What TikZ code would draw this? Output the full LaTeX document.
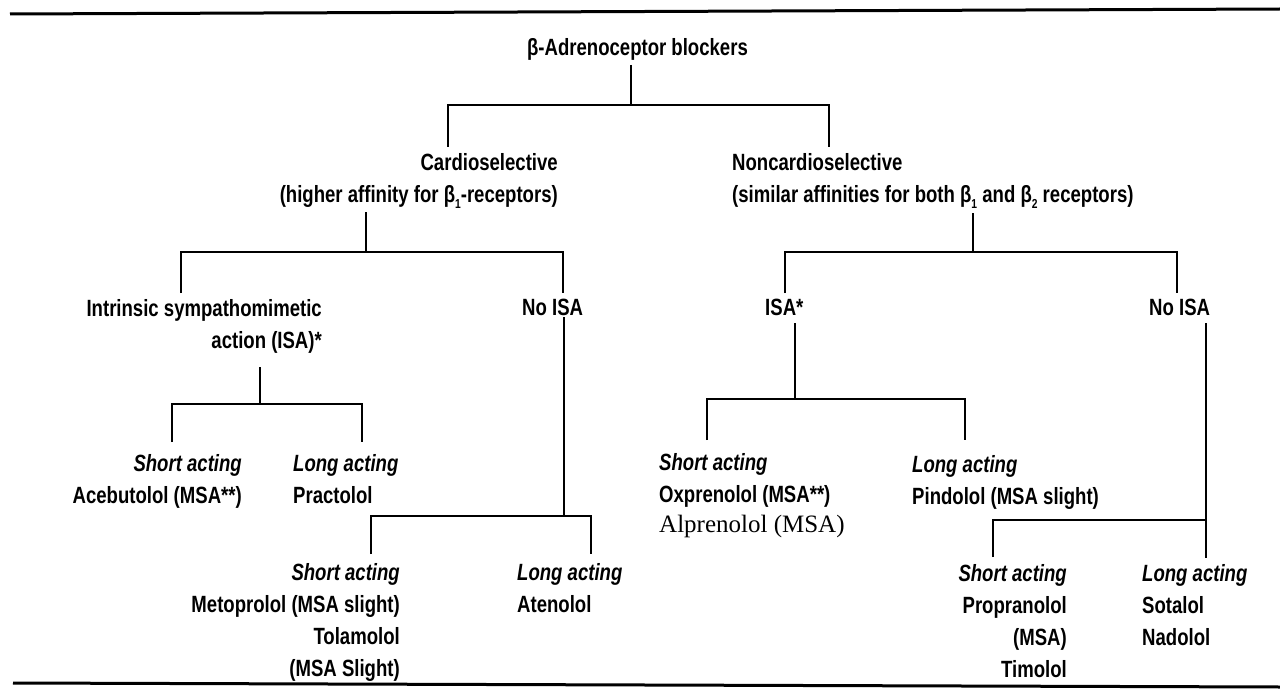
\documentclass[tikz,border=0pt]{standalone}
\usepackage{fontspec}
\setmainfont{Liberation Sans}[FakeStretch=0.79]
\newfontfamily\alpfont{Liberation Serif}
\newcommand\lowsub[1]{\raisebox{-0.5ex}{\fontsize{13}{13}\selectfont #1}}
\begin{document}
\begin{tikzpicture}[x=1pt,y=-1pt,
  lbl/.style={inner sep=0pt, font=\bfseries\fontsize{23.5}{32}\selectfont},
  lblR/.style={lbl, align=right, anchor=north east},
  lblL/.style={lbl, align=left, anchor=north west},
  conn/.style={line width=2.2pt, line join=miter},
  rule/.style={line width=3pt}]
\useasboundingbox[fill=white] (0,0) rectangle (1280,690);

% rules
\coordinate (tl) at (10,14); \coordinate (tr) at (1280,9);
\coordinate (bl) at (13,683); \coordinate (br) at (1280,687);
\draw[rule] (tl) -- (tr);
\draw[rule] (bl) -- (br);

% nodes
\node[lbl, anchor=north] (root) at (637.5,38) {β-Adrenoceptor blockers};
\node[lblR] (cardio) at (558,153) {Cardioselective\\(higher affinity for β\lowsub{1}-receptors)};
\node[lblL] (noncardio) at (732,153) {Noncardioselective\\(similar affinities for both β\lowsub{1} and β\lowsub{2} receptors)};
\node[lblR] (isa1) at (322,299) {Intrinsic sympathomimetic\\action (ISA)*};
\node[lblL] (noisa1) at (522,299) {No ISA};
\node[lblL] (isa2) at (765,299) {ISA*};
\node[lblL] (noisa2) at (1149,299) {No ISA};
\node[lblR] (leaf1) at (242,454) {\textit{Short acting}\\Acebutolol (MSA**)};
\node[lblL] (leaf2) at (293,454) {\textit{Long acting}\\Practolol};
\node[lblR] (leaf3) at (400,563) {\textit{Short acting}\\Metoprolol (MSA slight)\\Tolamolol\\(MSA Slight)};
\node[lblL] (leaf4) at (517,563) {\textit{Long acting}\\Atenolol};
\node[lblL] (leaf5) at (659,453) {\textit{Short acting}\\Oxprenolol (MSA**)\\[-2pt]{\alpfont\mdseries\fontsize{25}{30}\selectfont Alprenolol (MSA)}};
\node[lblL] (leaf6) at (912,455) {\textit{Long acting}\\Pindolol (MSA slight)};
\node[lblR] (leaf7) at (1067,564) {\textit{Short acting}\\Propranolol\\(MSA)\\Timolol};
\node[lblL] (leaf8) at (1142,564) {\textit{Long acting}\\Sotalol\\Nadolol};

% connector points
\coordinate (r0) at (631,65);   \coordinate (rb) at (631,105);
\coordinate (c1) at (448,147);  \coordinate (c2) at (829,147);
\coordinate (cs0) at (366,212); \coordinate (csb) at (366,252);
\coordinate (i1) at (181,293);  \coordinate (n1) at (563,293);
\coordinate (ns0) at (973,213); \coordinate (nsb) at (973,252);
\coordinate (i2) at (785,293);  \coordinate (n2) at (1177,293);
\coordinate (is0) at (260,367); \coordinate (isb) at (260,404);
\coordinate (s1) at (172,442);  \coordinate (l1) at (362,442);
\coordinate (ns1) at (564,317); \coordinate (nb1) at (564,516);
\coordinate (s2) at (371,554);  \coordinate (l2) at (591,554);
\coordinate (is2) at (795,323); \coordinate (isb2) at (795,399);
\coordinate (s3) at (707,440);  \coordinate (l3) at (965,440);
\coordinate (ns2) at (1206,323); \coordinate (nb2) at (1206,520);
\coordinate (l4) at (1206,558); \coordinate (s4) at (993,557);

% connectors
\draw[conn] (r0) -- (rb);
\draw[conn] (c1) |- (rb) -| (c2);
\draw[conn] (cs0) -- (csb);
\draw[conn] (i1) |- (csb) -| (n1);
\draw[conn] (ns0) -- (nsb);
\draw[conn] (i2) |- (nsb) -| (n2);
\draw[conn] (is0) -- (isb);
\draw[conn] (s1) |- (isb) -| (l1);
\draw[conn] (ns1) -- (nb1);
\draw[conn] (s2) |- (nb1) -| (l2);
\draw[conn] (is2) -- (isb2);
\draw[conn] (s3) |- (isb2) -| (l3);
\draw[conn] (ns2) -- (l4);
\draw[conn] (s4) |- (nb2);
\end{tikzpicture}
\end{document}
